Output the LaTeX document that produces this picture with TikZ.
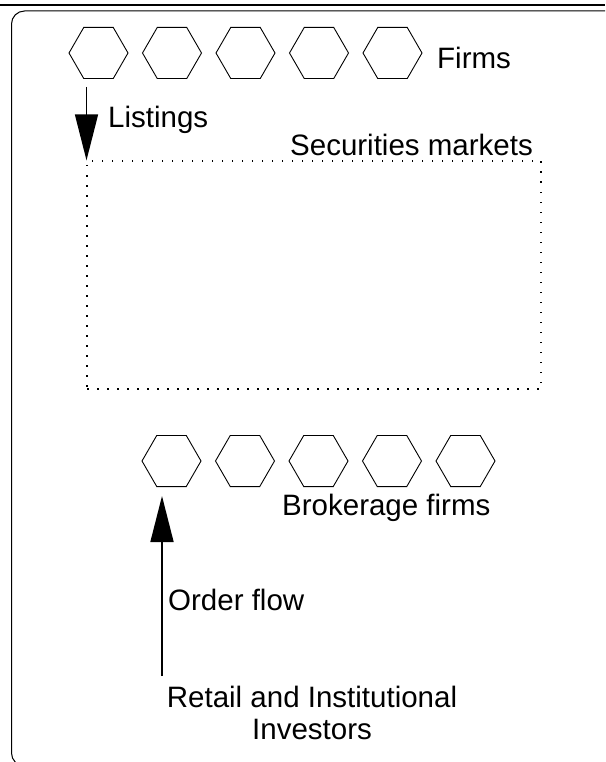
\documentclass[tikz,border=0pt]{standalone}
\usepackage{fontspec}
\setmainfont{Liberation Sans}
\usetikzlibrary{shapes.geometric,arrows.meta}
\begin{document}
\begin{tikzpicture}[x=1pt,y=-1pt,
  hexa/.style={draw,regular polygon,regular polygon sides=6,minimum size=59pt,inner sep=0pt,outer sep=0pt,line width=0.9pt},
  lbl/.style={inner sep=0pt,font=\fontsize{29.5}{33}\selectfont},
  flow/.style={line width=1.6pt,-{Triangle[length=46pt,width=23pt]}},
  dotbox/.style={draw,line width=1.3pt,dash pattern=on 1.5pt off 8.5pt,minimum width=454pt,minimum height=228pt,inner sep=0pt}]
\useasboundingbox (0,0) rectangle (605,762);
\clip (0,0) rectangle (605,762);
% frame
\draw[line width=1.3pt] (0,5) -- (605,5);
\draw[line width=1pt,rounded corners=13pt] (11.5,11) rectangle (660,766);
% firms
\foreach \i/\x in {1/98.5,2/172,3/245.5,4/319,5/392.5}
  \node[hexa] (f\i) at (\x,53) {};
\node[lbl,anchor=base west] (firms) at (437,69) {Firms};
% securities market
\node[dotbox] (mkt) at (314,275) {};
\node[lbl,anchor=base east] (sec) at (533,156) {Securities markets};
\coordinate (l0) at (86.5,87);
\draw[flow] (l0) -- (l0 |- mkt.north);
\node[lbl,anchor=base west] (list) at (108,128) {Listings};
% brokerage
\foreach \i/\x in {1/171.5,2/245,3/318.5,4/392,5/465.5}
  \node[hexa] (b\i) at (\x,461) {};
\node[lbl,anchor=base west] (brok) at (282,515) {Brokerage firms};
% investors
\node[lbl,align=center,anchor=base] (inv) at (312,739) {Retail and Institutional\\[-1pt]Investors};
\coordinate (o0) at (162,676);
\coordinate (o1) at (162,496);
\draw[flow] (o0) -- (o1);
\node[lbl,anchor=base west] (order) at (168,610) {Order flow};
\end{tikzpicture}
\end{document}
